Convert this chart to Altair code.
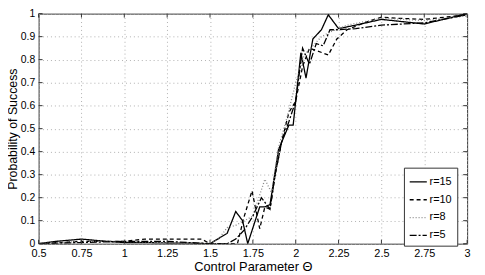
import altair as alt
import pandas as pd

# ---- data ----
series_names = ["r=15", "r=10", "r=8", "r=5"]

x_r15 = [0.5, 0.6, 0.75, 0.9, 1.0, 1.1, 1.25, 1.4, 1.5, 1.6, 1.65, 1.69, 1.72, 1.79, 1.82, 1.85,
         1.9, 1.96, 1.985, 2.0, 2.03, 2.06, 2.1, 2.15, 2.19, 2.25, 2.35, 2.5, 2.75, 3.0]
y_r15 = [0, 0.01, 0.02, 0.01, 0.005, 0.005, 0.003, 0.002, 0, 0.045, 0.14, 0.1, 0, 0.16, 0.16, 0.17,
         0.41, 0.515, 0.515, 0.62, 0.83, 0.72, 0.89, 0.93, 0.995, 0.935, 0.95, 0.975, 0.955, 1.0]

x_r10 = [0.5, 0.75, 1.0, 1.12, 1.25, 1.45, 1.5, 1.55, 1.6, 1.66, 1.7, 1.745, 1.79, 1.82, 1.85, 1.88,
         1.92, 1.96, 2.0, 2.04, 2.08, 2.12, 2.19, 2.24, 2.3, 2.4, 2.5, 2.6, 2.75, 3.0]
y_r10 = [0, 0.01, 0.01, 0.02, 0.02, 0.02, 0, 0, 0, 0, 0.12, 0.23, 0.065, 0.16, 0.15, 0.3,
         0.45, 0.57, 0.62, 0.77, 0.85, 0.84, 0.82, 0.89, 0.93, 0.96, 0.985, 0.98, 0.975, 0.995]

x_r8 = [0.5, 0.75, 1.0, 1.25, 1.5, 1.55, 1.6, 1.65, 1.7, 1.75, 1.82, 1.86, 1.9, 1.95, 2.0, 2.05,
        2.1, 2.15, 2.2, 2.3, 2.5, 2.75, 3.0]
y_r8 = [0, 0.01, 0.01, 0.005, 0, 0.02, 0.07, 0.08, 0.1, 0.12, 0.28, 0.22, 0.42, 0.55, 0.7, 0.82,
        0.86, 0.9, 0.92, 0.95, 0.98, 0.97, 0.99]

x_r5 = [0.5, 0.75, 1.0, 1.25, 1.5, 1.6, 1.65, 1.7, 1.75, 1.8, 1.85, 1.88, 1.92, 1.96, 2.0, 2.04,
        2.08, 2.12, 2.16, 2.2, 2.25, 2.35, 2.5, 2.75, 3.0]
y_r5 = [0, 0.005, 0.01, 0.01, 0, 0, 0.02, 0.06, 0.12, 0.2, 0.15, 0.3, 0.45, 0.53, 0.62, 0.85,
        0.78, 0.87, 0.86, 0.93, 0.93, 0.935, 0.95, 0.96, 0.995]

x_ticks = [0.5, 0.75, 1.0, 1.25, 1.5, 1.75, 2.0, 2.25, 2.5, 2.75, 3.0]
y_ticks = [0, 0.1, 0.2, 0.3, 0.4, 0.5, 0.6, 0.7, 0.8, 0.9, 1.0]

# ---- build tables ----
rows = []
for name, xs, ys in zip(series_names, [x_r15, x_r10, x_r8, x_r5], [y_r15, y_r10, y_r8, y_r5]):
    for i, (a, b) in enumerate(zip(xs, ys)):
        rows.append({"series": name, "theta": a, "p": b, "order": i})
df = pd.DataFrame(rows)
xt = pd.DataFrame({"theta": x_ticks})
yt = pd.DataFrame({"p": y_ticks})

W, H = 434, 233
FONT = "Liberation Sans"

xscale = alt.Scale(domain=[0.5, 3], nice=False, zero=False)
yscale = alt.Scale(domain=[0, 1], nice=False)

xaxis = alt.Axis(values=x_ticks, title="Control Parameter Θ",
                 labelExpr="'' + datum.value", labelOverlap=False, labelFlush=False,
                 grid=True, ticks=False, labelPadding=4, titlePadding=2)
yaxis = alt.Axis(values=y_ticks, title="Probability of Success",
                 labelExpr="'' + datum.value", labelOverlap=False, labelFlush=False,
                 grid=True, ticks=False, labelPadding=4, labelFontSize=10.5,
                 titleX=-22, titleY=H / 2, titleBaseline="alphabetic", titleFontSize=12.5,
                 titleAngle=270, titleAlign="center")

leg = alt.Legend(title=None, orient="none", legendX=370, legendY=156,
                 symbolType="stroke", symbolSize=300, symbolStrokeWidth=1.5,
                 labelFontSize=11, labelFont=FONT, rowPadding=3,
                 padding=5, strokeColor="#333333", fillColor="white",
                 cornerRadius=0, labelOffset=2)

lines = alt.Chart(df).mark_line(clip=True).encode(
    x=alt.X("theta:Q", scale=xscale, axis=xaxis),
    y=alt.Y("p:Q", scale=yscale, axis=yaxis),
    order="order:Q",
    color=alt.Color("series:N",
                    scale=alt.Scale(domain=series_names, range=["#000000", "#000000", "#888888", "#000000"]),
                    legend=leg),
    strokeDash=alt.StrokeDash("series:N",
                              scale=alt.Scale(domain=series_names,
                                              range=[[1, 0], [4, 3], [1, 2], [7, 2, 2, 2]]),
                              legend=leg),
    strokeWidth=alt.StrokeWidth("series:N",
                                scale=alt.Scale(domain=series_names, range=[1.3, 1.3, 1.3, 1.7]),
                                legend=None),
)

tick_len = 4
xt_bottom = alt.Chart(xt).mark_rule(color="#333333", strokeWidth=1).encode(
    x=alt.X("theta:Q", scale=xscale, axis=xaxis), y=alt.value(H), y2=alt.value(H - tick_len))
xt_top = alt.Chart(xt).mark_rule(color="#333333", strokeWidth=1).encode(
    x=alt.X("theta:Q", scale=xscale, axis=xaxis), y=alt.value(0), y2=alt.value(tick_len))
yt_left = alt.Chart(yt).mark_rule(color="#333333", strokeWidth=1).encode(
    y=alt.Y("p:Q", scale=yscale, axis=yaxis), x=alt.value(0), x2=alt.value(tick_len))
yt_right = alt.Chart(yt).mark_rule(color="#333333", strokeWidth=1).encode(
    y=alt.Y("p:Q", scale=yscale, axis=yaxis), x=alt.value(W), x2=alt.value(W - tick_len))

chart = alt.layer(lines, xt_bottom, xt_top, yt_left, yt_right).properties(
    width=W, height=H,
    autosize=alt.AutoSizeParams(type="none"),
    padding={"left": 31, "top": 4, "right": 10, "bottom": 30},
    background="white",
).configure_view(
    stroke="#333333", strokeWidth=1
).configure_axis(
    labelFont=FONT, titleFont=FONT, labelFontSize=11, titleFontSize=13,
    titleFontWeight="normal", labelColor="black", titleColor="black",
    domain=False, gridColor="#b0b0b0", gridDash=[1, 3], gridWidth=1,
)

chart.save("out.html", embed_options={"renderer": "svg", "actions": False})
